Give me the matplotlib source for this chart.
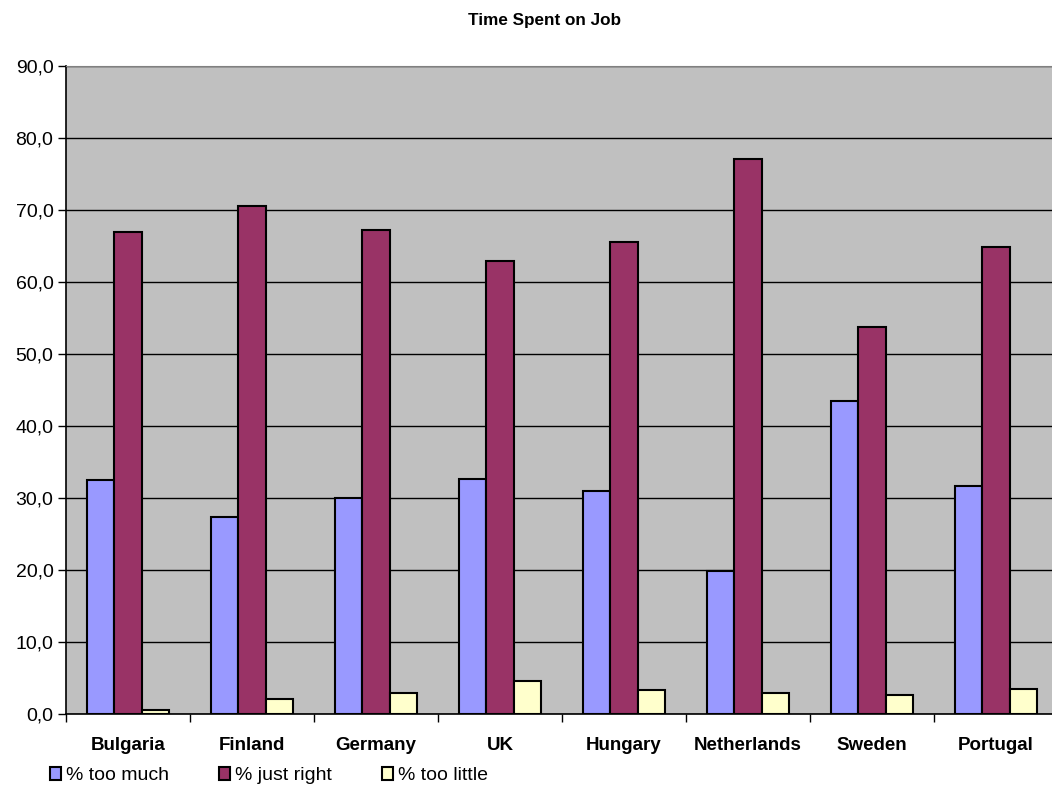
import numpy as np
import matplotlib
matplotlib.use('Agg')
import matplotlib.pyplot as plt
from matplotlib.ticker import FuncFormatter, MultipleLocator

plt.rcParams['font.family'] = ['Liberation Sans', 'DejaVu Sans']

countries = ['Bulgaria', 'Finland', 'Germany', 'UK', 'Hungary', 'Netherlands', 'Sweden', 'Portugal']
too_much = [32.5, 27.4, 30.0, 32.6, 31.0, 19.9, 43.5, 31.7]
just_right = [66.9, 70.6, 67.2, 62.9, 65.6, 77.1, 53.8, 64.8]
too_little = [0.5, 2.1, 2.9, 4.6, 3.3, 2.9, 2.7, 3.5]
series_names = ['% too much', '% just right', '% too little']
colors = ['#9999FF', '#993366', '#FFFFCC']

W, H = 1052, 787
fig = plt.figure(figsize=(W / 100, H / 100), dpi=100)
ax = fig.add_axes([66 / W, (H - 714) / H, 992 / W, 648 / H])
ax.set_facecolor('#C0C0C0')

x = np.arange(len(countries))
bw = 0.222
for i, (vals, name, col) in enumerate(zip([too_much, just_right, too_little], series_names, colors)):
    ax.bar(x + (i - 1) * bw, vals, bw, color=col, edgecolor='black', linewidth=1.5,
           label=name, zorder=3)

ax.set_xlim(-0.5, len(countries) - 0.5)
ax.set_ylim(0, 90)
ax.yaxis.set_major_locator(MultipleLocator(10))
ax.yaxis.set_major_formatter(FuncFormatter(lambda v, p: f'{v:.1f}'.replace('.', ',')))
ax.grid(axis='y', color='black', linewidth=1, zorder=1)

ax.set_xticks(x)
ax.set_xticklabels(countries, fontsize=13.5, fontweight='bold')
ax.set_xticks(np.arange(-0.5, len(countries) + 0.5, 1), minor=True)
ax.tick_params(axis='x', which='major', length=0, pad=16.5)
ax.tick_params(axis='x', which='minor', length=6, width=1, direction='out')
ax.tick_params(axis='y', length=6, width=1, direction='out', labelsize=14, pad=3)

ax.spines['top'].set_color('#808080')
ax.spines['right'].set_visible(False)
for s in ['left', 'bottom']:
    ax.spines[s].set_linewidth(1.2)

fig.text(545 / W, 1 - 20 / H, 'Time Spent on Job', ha='center', va='center',
         fontsize=12.3, fontweight='bold')

fig.legend(loc='lower left', bbox_to_anchor=(36 / W, -11 / H), ncol=3, frameon=False,
           fontsize=14, handlelength=0.6, handleheight=0.6, handletextpad=0.25,
           columnspacing=2.55, borderpad=0.2)

fig.savefig('out.png', dpi=100, facecolor='white')
